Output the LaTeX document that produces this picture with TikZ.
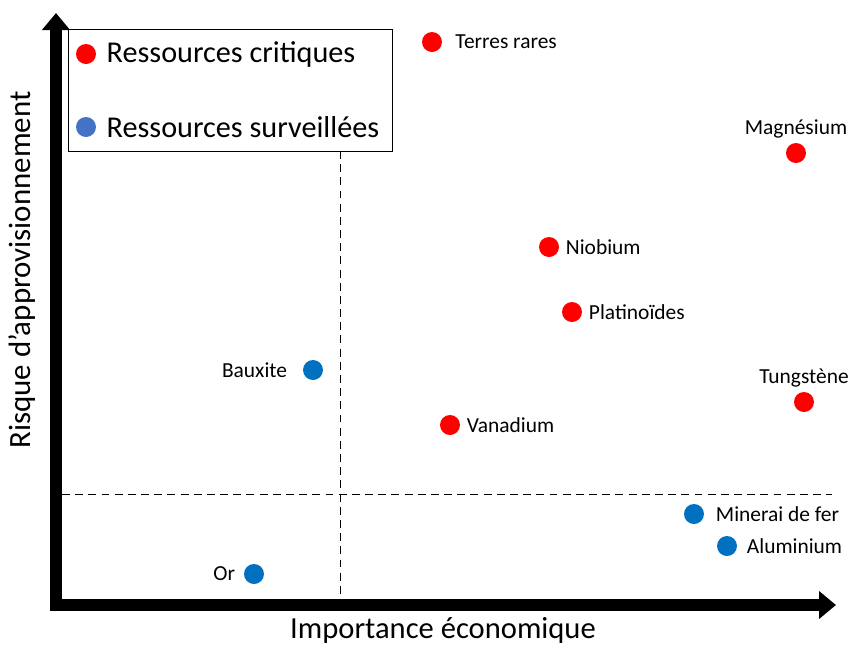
\documentclass[tikz,border=0pt]{standalone}
\usepackage{fontspec}
\setmainfont{Carlito}
\usepackage{xcolor}
\usetikzlibrary{positioning,arrows.meta}
\definecolor{critred}{RGB}{255,0,0}
\definecolor{survblue}{RGB}{0,112,192}
\definecolor{legblue}{RGB}{68,114,196}

\begin{document}
\begin{tikzpicture}[x=0.02cm, y=-0.02cm]
% Define styles
\tikzstyle{critique} = [circle, fill=critred, inner sep=0pt, minimum size=0.4cm]
\tikzstyle{surveillee} = [circle, fill=survblue, inner sep=0pt, minimum size=0.4cm]
\tikzstyle{nom} = [font=\fontsize{12.2}{14}\selectfont, inner sep=1pt]
\tikzstyle{axe} = [line width=0.24cm, -{Triangle[length=0.34cm, width=0.54cm]}]
\tikzstyle{seuil} = [dash pattern=on 4.5pt off 3pt, thin]

\useasboundingbox (0,0) rectangle (850,647);

% Axes
\coordinate (o) at (56,605);
\coordinate (ybas) at (56,611);
\coordinate (yhaut) at (56,13);
\coordinate (xgauche) at (50,605);
\coordinate (xdroite) at (836,605);
\draw [axe] (ybas) -- (yhaut);
\draw [axe] (xgauche) -- (xdroite);
\node [rotate=90, font=\fontsize{17.6}{20}\selectfont] (risque) at (22,270) {Risque d’approvisionnement};
\node [font=\fontsize{17.4}{20}\selectfont] (importance) at (443,630) {Importance économique};

% Legend
\node [draw, thin, minimum width=6.48cm, minimum height=2.44cm, anchor=north west, inner sep=0pt] (legende) at (68,29) {};
\node [critique] (lcrit) at (86,54) {};
\node [surveillee, fill=legblue] (lsurv) at (86,127) {};
\node [right=0.2cm of lcrit, font=\fontsize{17.2}{20}\selectfont, inner sep=0pt] (tcrit) {Ressources critiques};
\node [right=0.2cm of lsurv, font=\fontsize{17.2}{20}\selectfont, inner sep=0pt] (tsurv) {Ressources surveillées};

% Thresholds
\coordinate (vhaut) at (340,151);
\coordinate (vbas) at (340,598);
\coordinate (hgauche) at (62,494);
\coordinate (hdroite) at (832,494);
\draw [seuil] (vhaut) -- (vbas);
\draw [seuil] (hgauche) -- (hdroite);

% Critical resources
\node [critique] (terres) at (432,42) {};
\node [nom, right=0.22cm of terres] {Terres rares};
\node [critique] (magnesium) at (796,153) {};
\node [nom, above=0.04cm of magnesium] {Magnésium};
\node [critique] (niobium) at (549,247) {};
\node [nom, right=0.09cm of niobium] {Niobium};
\node [critique] (platine) at (572,312) {};
\node [nom, right=0.09cm of platine] {Platinoïdes};
\node [critique] (tungstene) at (804,402) {};
\node [nom, above=0.04cm of tungstene] {Tungstène};
\node [critique] (vanadium) at (450,425) {};
\node [nom, right=0.09cm of vanadium] {Vanadium};

% Monitored resources
\node [surveillee] (bauxite) at (313,370) {};
\node [nom, left=0.27cm of bauxite] {Bauxite};
\node [surveillee] (or) at (254,574) {};
\node [nom, left=0.13cm of or] {Or};
\node [surveillee] (fer) at (694,514) {};
\node [nom, right=0.19cm of fer] {Minerai de fer};
\node [surveillee] (alu) at (727,546) {};
\node [nom, right=0.15cm of alu] {Aluminium};
\end{tikzpicture}
\end{document}
